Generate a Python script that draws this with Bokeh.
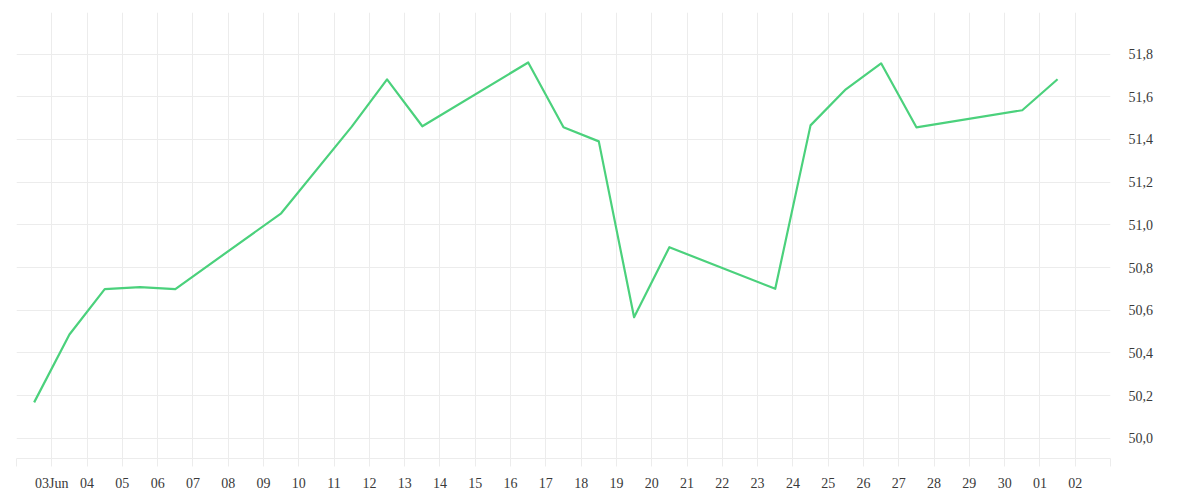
import pandas as pd
from bokeh.plotting import figure
from bokeh.models import Range1d, FixedTicker, CustomJSTickFormatter, ColumnDataSource
from bokeh.embed import file_html
from bokeh.resources import INLINE

# ---- data ----
dates = ["2025-06-02", "2025-06-03", "2025-06-04", "2025-06-05", "2025-06-06",
         "2025-06-09", "2025-06-11", "2025-06-12", "2025-06-13",
         "2025-06-16", "2025-06-17", "2025-06-18", "2025-06-19", "2025-06-20",
         "2025-06-23", "2025-06-24", "2025-06-25", "2025-06-26", "2025-06-27",
         "2025-06-30", "2025-07-01"]
values = [50.168, 50.486, 50.699, 50.708, 50.699,
          51.054, 51.460, 51.682, 51.462,
          51.761, 51.457, 51.391, 50.567, 50.895,
          50.700, 51.466, 51.635, 51.757, 51.457,
          51.537, 51.682]
x_tick_labels = ["", "03Jun", "04", "05", "06", "07", "08", "09", "10", "11", "12",
                 "13", "14", "15", "16", "17", "18", "19", "20", "21", "22", "23",
                 "24", "25", "26", "27", "28", "29", "30", "01", "02", ""]
y_ticks = [50.0, 50.2, 50.4, 50.6, 50.8, 51.0, 51.2, 51.4, 51.6, 51.8]

start = pd.Timestamp("2025-06-02")
x_days = [((pd.Timestamp(d) - start) / pd.Timedelta(days=1)) + 0.5 for d in dates]
src = ColumnDataSource(dict(x=x_days, y=values))

FONT = "Liberation Serif"
GRID = "#ececec"
TEXT = "#3a3a3a"

p = figure(frame_width=1094, frame_height=446,
           x_range=Range1d(0, len(x_tick_labels) - 1),
           y_range=Range1d(49.905, 51.995),
           y_axis_location="right",
           output_backend="svg", toolbar_location=None,
           min_border_left=16, min_border_top=12, min_border_right=30, min_border_bottom=10,
           background_fill_color="white", border_fill_color="white")
p.outline_line_color = None

p.line("x", "y", source=src, line_color="#4bd17c", line_width=2.2, line_join="round")

# x axis
xa = p.xaxis[0]
xa.ticker = FixedTicker(ticks=list(range(len(x_tick_labels))))
xa.major_label_overrides = {i: lab for i, lab in enumerate(x_tick_labels)}
xa.axis_line_color = GRID
xa.major_tick_line_color = GRID
xa.major_tick_out = 8
xa.major_tick_in = 0
xa.minor_tick_line_color = None
xa.major_label_standoff = 9
xa.major_label_text_font = FONT
xa.major_label_text_font_size = "14px"
xa.major_label_text_color = TEXT

# y axis
ya = p.yaxis[0]
ya.ticker = FixedTicker(ticks=y_ticks)
ya.formatter = CustomJSTickFormatter(code="return tick.toFixed(1).replace('.', ',');")
ya.axis_line_color = None
ya.major_tick_line_color = None
ya.minor_tick_line_color = None
ya.major_label_standoff = 12
ya.major_label_text_font = FONT
ya.major_label_text_font_size = "14px"
ya.major_label_text_color = TEXT

p.xgrid.grid_line_color = GRID
p.ygrid.grid_line_color = GRID
p.xgrid.grid_line_width = 1
p.ygrid.grid_line_width = 1

open("out.html", "w").write(file_html(p, INLINE))
